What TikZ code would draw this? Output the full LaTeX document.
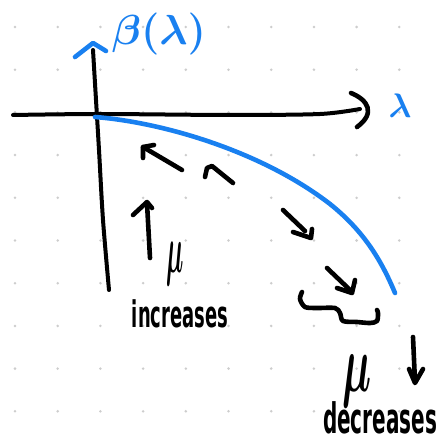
\documentclass[tikz,border=0pt]{standalone}
\usepackage{fix-cm}
\usepackage{bm}
\usepackage{fontspec}
\newfontfamily\handfont{DejaVu Sans}
\definecolor{penblue}{RGB}{25,128,240}
\definecolor{dotgray}{RGB}{205,205,205}
\begin{document}
\begin{tikzpicture}[x=1pt,y=-1pt,
  ink/.style={line width=4.6pt, line cap=round, line join=round, black},
  blueink/.style={line width=4.6pt, line cap=round, line join=round, draw=penblue},
  gridpt/.style={fill=dotgray, draw=none},
  bluetext/.style={text=penblue, inner sep=0pt},
  blacktext/.style={text=black, inner sep=0pt}]
\useasboundingbox (0,0) rectangle (440,446);
\fill[white] (0,0) rectangle (440,446);
% dotted paper
\foreach \i in {0,...,9}
  \foreach \j in {0,...,9}
    \fill[gridpt] (15+42.7*\i, 27+42.7*\j) circle (1.4pt);

% lambda axis with open arrowhead
\draw[ink, line width=4pt] plot[smooth] coordinates {(13,115) (100,114) (230,115) (320,114) (360,109)};
\draw[ink] (351,93) .. controls (368,100) and (376,113) .. (357,127);
% beta axis
\draw[ink, line width=4pt] plot[smooth] coordinates {(93,50) (96,100) (99,150) (103,220) (109,290)};
\draw[blueink] (75,57) -- (93,43) -- (106,51);

% axis labels
\node[bluetext] (betalab) at (159,34) {\fontsize{42}{50}\selectfont$\bm{\beta}\bm{(}\bm{\lambda}\bm{)}$};
\node[bluetext] (lamlab) at (400,106) {\fontsize{34}{40}\selectfont$\bm{\lambda}$};

% the curve beta(lambda)
\draw[blueink] (95,117) .. controls (160,122) and (260,150) .. (330,204)
  .. controls (365,232) and (382,262) .. (395,293);

% arrows pointing up the curve
\draw[ink] (182,170) -- (143,147);
\draw[ink] (143,158) -- (143,147) -- (154,145);
\draw[ink] (205,177) -- (207,168) -- (212,166) -- (233,183);
\draw[ink] (150,258) -- (147,203);
\draw[ink] (133,215) -- (147,202) -- (152,208);
\node[blacktext] (muup) at (175,264) {\fontsize{68}{70}\selectfont\scalebox{0.36}[1]{$\bm{\mu}$}};
\node[blacktext, anchor=base] (inclab) at (180,327) {\handfont\bfseries\fontsize{26}{30}\selectfont\scalebox{0.69}[1.41]{increases}};

% arrows pointing down the curve
\draw[ink] (283,210) -- (305,231);
\draw[ink] (293,232) -- (311,238) -- (312,229);
\draw[ink] (327,268) -- (349,289);
\draw[ink] (337,288) -- (352,293) -- (355,280);
\draw[ink] plot[smooth] coordinates {(302,292) (300,299) (305,307) (317,308) (335,308) (340,313) (343,321) (357,322) (370,323) (377,321) (378,313) (377,310)};
\node[blacktext] (mudown) at (357,381) {\fontsize{82}{84}\selectfont\scalebox{0.5}[1]{$\bm{\mu}$}};
\draw[ink] (413,337) -- (415,382);
\draw[ink] (409,369) -- (415,383) -- (423,369);
\node[blacktext, anchor=base] (declab) at (380,433) {\handfont\bfseries\fontsize{28}{32}\selectfont\scalebox{0.714}[1.5]{decreases}};
\end{tikzpicture}
\end{document}
